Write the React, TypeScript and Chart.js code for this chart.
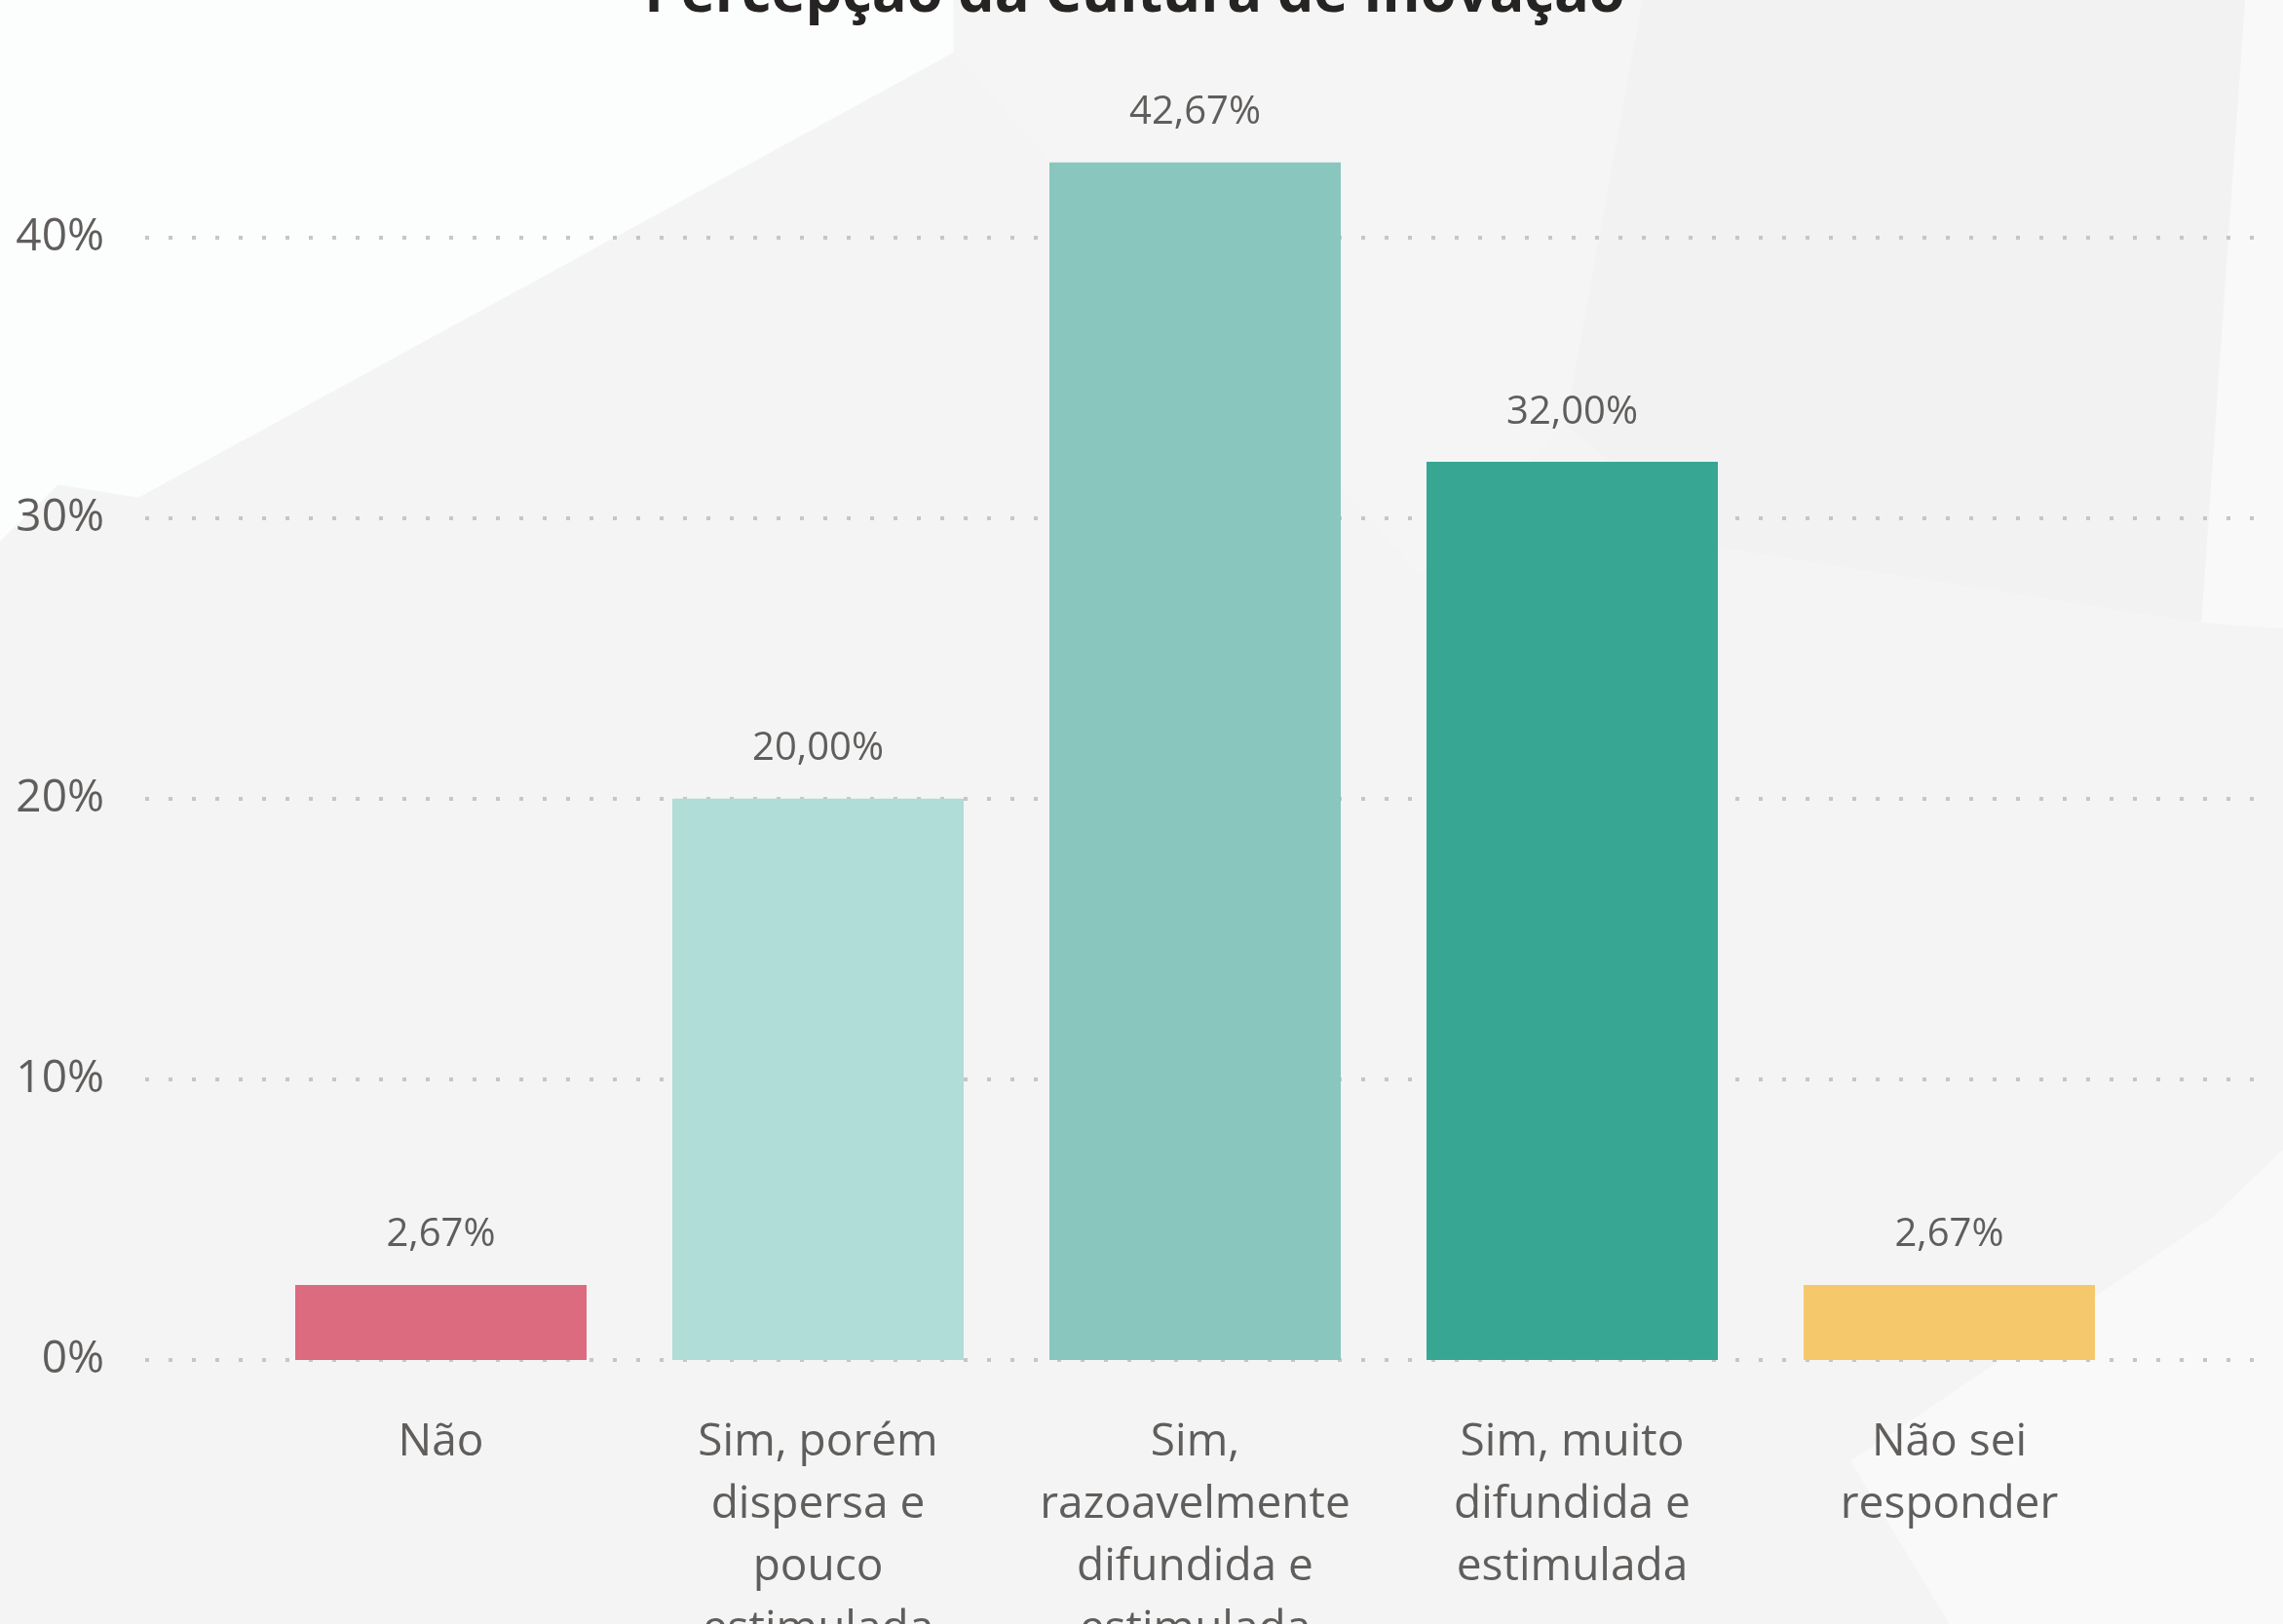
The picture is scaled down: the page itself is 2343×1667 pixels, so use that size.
import React, { useEffect, useRef } from "react";
import { Chart, registerables } from "chart.js";

Chart.register(...registerables);

const chartTitle = "Percepção da Cultura de Inovação";
const categories: (string | string[])[] = [
  "Não",
  ["Sim, porém", "dispersa e", "pouco", "estimulada"],
  ["Sim,", "razoavelmente", "difundida e", "estimulada"],
  ["Sim, muito", "difundida e", "estimulada"],
  ["Não sei", "responder"],
];
const values = [2.67, 20.0, 42.67, 32.0, 2.67];
const barColors = ["#DD6B7F", "#B0DDD7", "#89C6BD", "#37A794", "#F5C96B"];
const yMin = 0;
const yMax = 45;
const yStep = 10;

const FONT = "'Open Sans', 'Noto Sans', sans-serif";
const TEXT = "#605E5C";

const fmt = (v: number) => v.toFixed(2).replace(".", ",") + "%";

const dottedGrid = {
  id: "dottedGrid",
  beforeDatasetsDraw(chart: any) {
    const { ctx, chartArea } = chart;
    const y = chart.scales.y;
    ctx.save();
    ctx.strokeStyle = "#C8C6C4";
    ctx.lineWidth = 4;
    ctx.setLineDash([4, 20]);
    y.ticks.forEach((t: any) => {
      const py = Math.round(y.getPixelForValue(t.value));
      ctx.beginPath();
      ctx.moveTo(chartArea.left - 110, py);
      ctx.lineTo(chartArea.right + 122, py);
      ctx.stroke();
    });
    ctx.restore();
  },
};

const valueLabels = {
  id: "valueLabels",
  afterDatasetsDraw(chart: any) {
    const { ctx } = chart;
    const meta = chart.getDatasetMeta(0);
    ctx.save();
    ctx.font = `40px ${FONT}`;
    ctx.fillStyle = TEXT;
    ctx.textAlign = "center";
    ctx.textBaseline = "middle";
    meta.data.forEach((bar: any, i: number) => {
      ctx.fillText(fmt(values[i]), bar.x, bar.y - 51);
    });
    ctx.restore();
  },
};

export default function App() {
  const ref = useRef<HTMLCanvasElement | null>(null);

  useEffect(() => {
    document.body.style.margin = "0";
    const canvas = ref.current;
    if (!canvas) return;
    const chart = new Chart(canvas, {
      type: "bar",
      data: {
        labels: categories,
        datasets: [
          {
            data: values,
            backgroundColor: barColors,
            borderWidth: 0,
            barPercentage: 0.7726,
            categoryPercentage: 1,
          },
        ],
      },
      options: {
        responsive: false,
        animation: false,
        devicePixelRatio: 1,
        layout: { padding: { left: 0, right: 0, top: 9, bottom: 0 } },
        plugins: {
          legend: { display: false },
          tooltip: { enabled: false },
          title: {
            display: true,
            text: chartTitle,
            color: "#252423",
            font: { family: FONT, size: 59.5, weight: "bold", lineHeight: 1.2 },
            padding: { top: 0, bottom: 69 },
          },
        },
        scales: {
          x: {
            grid: { display: false },
            border: { display: false },
            ticks: {
              color: TEXT,
              font: { family: FONT, size: 46, lineHeight: "64px" },
              padding: 45,
              maxRotation: 0,
              minRotation: 0,
              autoSkip: false,
            },
            afterFit: (s: any) => {
              s.height = 292;
            },
          },
          y: {
            min: yMin,
            max: yMax,
            bounds: "data",
            grid: { display: false, drawTicks: false },
            border: { display: false },
            ticks: {
              stepSize: yStep,
              includeBounds: false,
              color: TEXT,
              font: { family: FONT, size: 46 },
              padding: 152,
              callback: (v: any) => `${v}%`,
            },
            afterBuildTicks: (s: any) => {
              s.ticks = s.ticks.filter((t: any) => t.value % yStep === 0);
            },
            afterFit: (s: any) => {
              s.width = 273;
            },
          },
          yRight: {
            type: "linear",
            position: "right",
            display: true,
            grid: { display: false, drawTicks: false },
            border: { display: false },
            ticks: { display: false },
            afterFit: (s: any) => {
              s.width = 149;
            },
          },
        },
      },
      plugins: [dottedGrid, valueLabels],
    });
    return () => chart.destroy();
  }, []);

  return (
    <div
      style={{
        position: "fixed",
        left: 0,
        top: 0,
        width: 2343,
        height: 1667,
        overflow: "hidden",
        background: "#F4F4F4",
      }}
    >
      <svg
        width={2343}
        height={1667}
        viewBox="0 0 1568 1116"
        preserveAspectRatio="none"
        style={{ position: "absolute", left: 0, top: 0 }}
      >
        <polygon points="0,0 655,0 655,36 95,342 40,333 0,372" fill="#FCFDFD" />
        <polygon points="655,0 1128,0 1075,292 975,395 712,100 655,36" fill="#F5F5F5" />
        <polygon points="1128,0 1542,0 1512,428 1180,376 1075,292" fill="#F2F2F2" />
        <polygon points="1542,0 1568,0 1568,432 1512,428" fill="#F9F9F9" />
        <polygon points="1568,790 1568,1116 1339,1116 1271,1004 1519,837" fill="#F9F9F9" />
      </svg>
      <canvas
        ref={ref}
        width={2357}
        height={1768}
        style={{ position: "absolute", left: -14, top: -80, width: 2357, height: 1768 }}
      />
    </div>
  );
}
